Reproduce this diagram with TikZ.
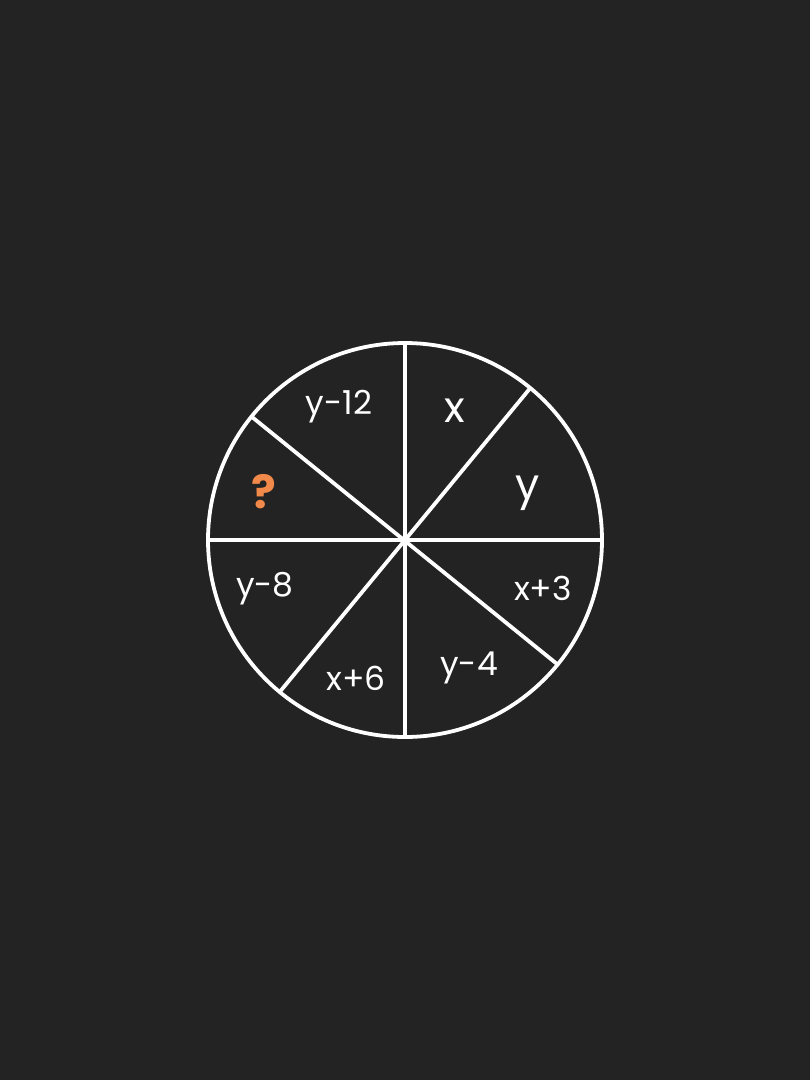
\documentclass[tikz,border=0pt]{standalone}
\usepackage{fontspec}
\setmainfont{Poppins}
\usetikzlibrary{calc}
\definecolor{bg}{HTML}{232323}
\definecolor{qorange}{HTML}{F0894A}
\tikzset{
  seg/.style={draw=white, line width=3.8pt},
  lab/.style={text=white, font=\fontsize{33}{36}\selectfont, inner sep=0pt},
  biglab/.style={text=white, font=\fontsize{43}{46}\selectfont, inner sep=0pt},
  qlab/.style={text=qorange, font=\fontsize{46}{50}\selectfont\bfseries, inner sep=0pt}
}
\begin{document}
\begin{tikzpicture}[x=1pt,y=1pt]
\fill[bg] (0,0) rectangle (810,-1080);
\useasboundingbox (0,0) rectangle (810,-1080);
\coordinate (c) at (405,-540);
\def\R{197}
\coordinate (p90) at ($(c)+(90:\R)$);
\coordinate (p50) at ($(c)+(50.5:\R)$);
\coordinate (p0) at ($(c)+(0:\R)$);
\coordinate (pm39) at ($(c)+(-39.2:\R)$);
\coordinate (pm90) at ($(c)+(-90:\R)$);
\coordinate (p230) at ($(c)+(230.5:\R)$);
\coordinate (p180) at ($(c)+(180:\R)$);
\coordinate (p141) at ($(c)+(141.2:\R)$);
\draw[seg] (p90) -- (pm90);
\draw[seg] (p0) -- (p180);
\draw[seg] (p50) -- (p230);
\draw[seg] (p141) -- (pm39);
\draw[seg] (c) circle (\R);
\node[lab] (a) at (339,-407) {y-12};
\node[biglab] (b) at (455,-411) {x};
\node[biglab] (d) at (528,-493) {y};
\node[lab] (e) at (543,-588) {x+3};
\node[lab] (f) at (469,-668) {y-4};
\node[lab] (g) at (356,-678) {x+6};
\node[lab] (h) at (265,-589) {y-8};
\node[qlab] (q) at (264,-492) {?};
\end{tikzpicture}
\end{document}
